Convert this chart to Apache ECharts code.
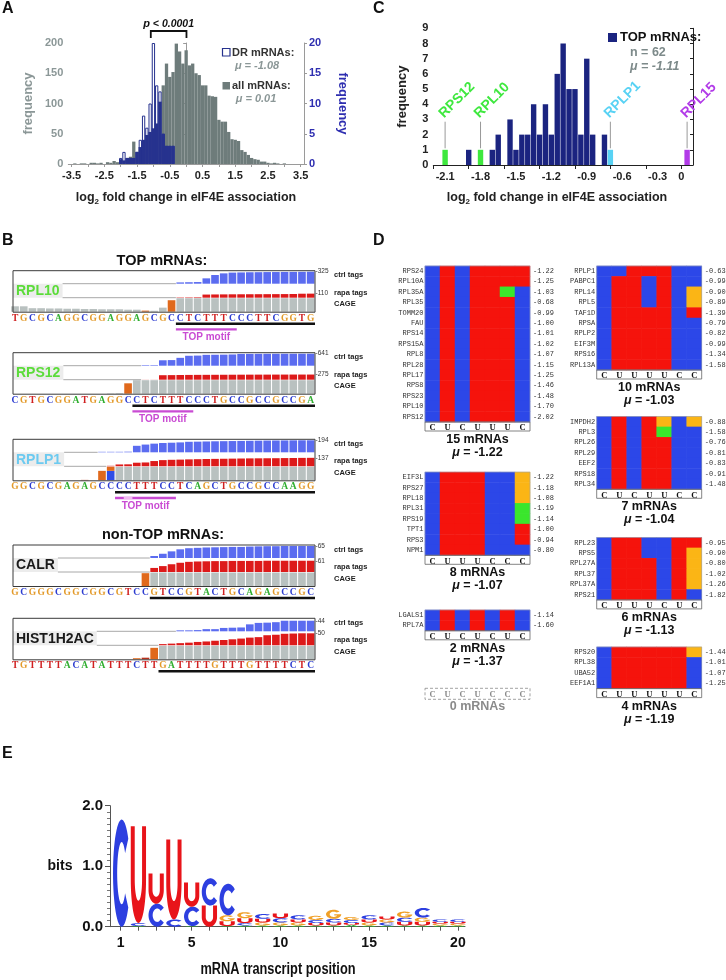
<!DOCTYPE html>
<html><head><meta charset="utf-8">
<script src="https://cdn.jsdelivr.net/npm/echarts@6.0.0/dist/echarts.min.js"></script>
<style>html,body{margin:0;padding:0;background:#fff;}#chart{width:726px;height:980px;}</style>
</head><body><div id="chart"></div>
<script>
/* ===================== DATA ===================== */
// ---- Panel A : histogram of log2 fold change (all mRNAs, DR mRNAs)
const aBins = [-3.4,-3.3,-3.2,-3.1,-3.0,-2.9,-2.8,-2.7,-2.6,-2.5,-2.4,-2.3,-2.2,-2.1,-2.0,-1.9,-1.8,-1.7,-1.6,-1.5,-1.4,-1.3,-1.2,-1.1,-1.0,-0.9,-0.8,-0.7,-0.6,-0.5,-0.4,-0.3,-0.2,-0.1,0.0,0.1,0.2,0.3,0.4,0.5,0.6,0.7,0.8,0.9,1.0,1.1,1.2,1.3,1.4,1.5,1.6,1.7,1.8,1.9,2.0,2.1,2.2,2.3,2.4,2.5,2.6,2.7,2.8,2.9,3.0];
const aAllCounts = [1,0,1,1,0,2,2,1,2,0,3,2,5,3,8,6,10,12,37,20,28,40,48,53,59,67,103,130,166,144,152,199,186,166,188,163,166,150,147,130,130,113,112,111,73,70,70,53,41,40,38,23,20,15,10,8,7,4,4,2,1,2,1,0,1];
const aDrBins = [-2.0,-1.9,-1.8,-1.7,-1.6,-1.5,-1.4,-1.3,-1.2,-1.1,-1.0,-0.9,-0.8,-0.7,-0.6,-0.5,-0.4];
const aDrCounts = [1,2,1,1,1,2,4,8,6,10,20,13,12,5,3,3,3];
const aTickVals = [-3.5,-3.0,-2.5,-2.0,-1.5,-1.0,-0.5,0,0.5,1.0,1.5,2.0,2.5,3.0,3.5];
const aLabelVals = [-3.5,-2.5,-1.5,-0.5,0.5,1.5,2.5,3.5];
const aMeanDR = -1.08;
const aMeanAll = 0.01;

// ---- Panel C : TOP mRNAs histogram
const cNavyBins = [-1.9,-1.7,-1.65,-1.55,-1.5,-1.45,-1.4,-1.35,-1.3,-1.25,-1.2,-1.15,-1.1,-1.05,-1.0,-0.95,-0.9,-0.85,-0.75];
const cNavyCounts = [1,1,2,3,1,2,2,4,2,4,2,6,8,5,5,2,7,2,2];
const cHlNames = ['RPS12','RPL10','RPLP1','RPL15'];
const cHlBins = [-2.1,-1.8,-0.7,-0.05];
const cHlCounts = [1,1,1,1];
const cTickMarks = [-2.2,-1.9,-1.6,-1.3,-1.0,-0.7,-0.4,-0.1];
const cLabelPos = [-2.1,-1.8,-1.5,-1.2,-0.9,-0.6,-0.3,-0.1];
const cLabelText = ['-2.1','-1.8','-1.5','-1.2','-0.9','-0.6','-0.3','0'];

// ---- Panel B : tag tracks
const bGenes = ['RPL10','RPS12','RPLP1','CALR','HIST1H2AC'];
const bSeqs = ['TGCGCAGGCGGAGGAGCGCCTCTTTCCCTTCGGTG','CGTGCGGATGAGGCCTCTTTCCCTGCCGCCGCCGA','GGCGCGAGAGCCCCTTTCCTCAGCTGCCGCCAAGG','GCGGGCGGCGGCGTCCGTCCGTACTGCAGAGCCGC','TGTTTTACATATTTCTTGATTTTGTTTGTTTTCTC'];
const bCtrl = [
 [0,0,0,0,0,0,0,0,0,0,0,0,0,0,0,0,0,0,0,35,40,45,145,235,280,300,305,310,312,315,316,318,320,322,325],
 [0,0,0,0,0,0,0,0,0,0,0,0,0,0,0,30,30,290,300,420,530,540,580,585,590,600,630,632,634,636,638,639,640,641,641],
 [0,0,0,0,0,0,0,0,0,0,8,8,8,10,105,125,140,150,155,160,170,172,175,178,180,182,184,186,188,190,191,192,193,194,194],
 [0,0,0,0,0,0,0,0,0,0,0,0,0,0,0,0,11,23,36,47,53,55,57,58,59,60,60,62,63,64,64,65,65,65,65],
 [0,0,0,0,0,0,0,0,0,0,0,0,0,0,0,0,0,0,0,4,4,5,9,9,14,15,16,29,35,36,38,44,44,44,44]
];
const bRapa = [
 [0,0,0,0,0,0,0,0,0,0,0,0,0,0,0,0,0,0,0,10,12,15,85,88,90,92,93,94,95,96,97,98,100,108,110],
 [0,0,0,0,0,0,0,0,0,0,0,0,0,0,0,5,5,240,245,250,255,258,260,262,264,266,268,270,271,272,273,274,275,275,275],
 [0,0,0,0,0,0,0,0,0,0,0,8,30,32,58,62,85,100,105,108,112,115,118,120,122,124,126,128,129,130,131,133,134,136,137],
 [0,0,0,0,0,0,0,0,0,0,0,0,0,0,0,0,22,32,42,50,55,57,58,59,59,60,60,60,60,61,61,61,61,61,61],
 [0,0,0,0,0,0,0,0,0,0,0,0,0,0,0,0,0,5,7,9,11,14,16,19,22,25,28,32,34,42,44,48,49,50,50]
];
const bCageGrey = [
 [40,40,26,26,24,24,22,22,20,20,18,18,18,15,15,0,7,30,0,100,100,100,100,100,100,100,100,100,100,100,100,100,100,100,100],
 [0,0,0,0,0,0,0,0,0,0,0,3,5,0,100,100,100,100,100,100,100,100,100,100,100,100,100,100,100,100,100,100,100,100,100],
 [0,0,0,0,0,0,0,0,0,0,0,0,100,100,100,100,100,100,100,100,100,100,100,100,100,100,100,100,100,100,100,100,100,100,100],
 [0,0,0,0,0,0,0,0,0,0,0,0,0,0,0,0,100,100,100,100,100,100,100,100,100,100,100,100,100,100,100,100,100,100,100],
 [0,0,0,0,0,0,0,0,0,0,0,0,0,0,0,0,0,100,100,100,100,100,100,100,100,100,100,100,100,100,100,100,100,100,100]
];
const bCageBlue = [
 [0,0,0,0,0,0,0,0,0,0,0,0,0,0,0,0,0,0,0,0,0,0,0,0,0,0,0,0,0,0,0,0,0,0,0],
 [0,0,0,0,0,0,0,0,0,0,0,0,0,0,0,0,0,0,0,0,0,0,0,0,0,0,0,0,0,0,0,0,0,0,0],
 [0,0,0,0,0,0,0,0,0,0,0,70,0,0,0,0,0,0,0,0,0,0,0,0,0,0,0,0,0,0,0,0,0,0,0],
 [0,0,0,0,0,0,0,0,0,0,0,0,0,0,0,0,0,0,0,0,0,0,0,0,0,0,0,0,0,0,0,0,0,0,0],
 [0,0,0,0,0,0,0,0,0,0,0,0,0,0,0,0,0,0,0,0,0,0,0,0,0,0,0,0,0,0,0,0,0,0,0]
];
const bCageOrange = [
 [0,0,0,0,0,0,0,0,0,0,0,0,0,0,0,8,0,0,85,0,0,0,0,0,0,0,0,0,0,0,0,0,0,0,0],
 [0,0,0,0,0,0,0,0,0,0,0,0,0,77,0,0,0,0,0,0,0,0,0,0,0,0,0,0,0,0,0,0,0,0,0],
 [0,0,0,0,0,0,0,0,0,0,70,30,0,0,0,0,0,0,0,0,0,0,0,0,0,0,0,0,0,0,0,0,0,0,0],
 [0,0,0,0,0,0,0,0,0,0,0,0,0,0,0,95,0,0,0,0,0,0,0,0,0,0,0,0,0,0,0,0,0,0,0],
 [0,0,0,0,0,0,0,0,0,0,0,0,0,0,8,0,85,0,0,0,0,0,0,0,0,0,0,0,0,0,0,0,0,0,0]
];
const bCageRed = [
 [0,0,0,0,0,0,0,0,0,0,0,0,0,0,0,0,0,0,0,0,0,0,0,0,0,0,0,0,0,0,0,0,0,0,0],
 [0,0,0,0,0,0,0,0,0,0,0,0,0,0,0,0,0,0,0,0,0,0,0,0,0,0,0,0,0,0,0,0,0,0,0],
 [0,0,0,0,0,0,0,0,3,0,0,0,0,0,0,0,0,0,0,0,0,0,0,0,0,0,0,0,0,0,0,0,0,0,0],
 [0,0,0,0,0,0,0,0,0,0,0,0,0,0,0,0,0,0,0,0,0,0,0,0,0,0,0,0,0,0,0,0,0,0,0],
 [0,0,0,0,0,0,0,0,0,0,0,0,0,0,0,12,0,0,0,0,0,0,0,0,0,0,0,0,0,0,0,0,0,0,0]
];
const bTxStart = [19,14,12,16,17];
const bMotif = [[19,25],[14,20],[12,18],null,null];
const bMotifWeak = [-1,-1,13,-1,-1];

// ---- Panel D : heatmaps
const d1Motif = 'CUCUUUC';
const d1Genes = ['RPS24','RPL10A','RPL35A','RPL35','TOMM20','FAU','RPS14','RPS15A','RPL8','RPL28','RPL17','RPS8','RPS23','RPL10','RPS12'];
const d1Vals = [-1.22,-1.25,-1.03,-0.68,-0.99,-1.00,-1.01,-1.02,-1.07,-1.15,-1.25,-1.46,-1.48,-1.70,-2.02];
const d1Seqs = ['CUCUUUU','CUCUUUU','CUCUUAC','CUCUUUC','CUCUUUC','CUCUUUC','CUCUUUC','CUCUUUC','CUCUUUC','CUCUUUC','CUCUUUC','CUCUUUC','CUCUUUC','CUCUUUC','CUCUUUC'];
const d1Mean = -1.22;
const d2Motif = 'CUUUUCC';
const d2Genes = ['RPLP1','PABPC1','RPL14','RPL5','TAF1D','RPSA','RPLP2','EIF3M','RPS16','RPL13A'];
const d2Vals = [-0.63,-0.99,-0.90,-0.89,-1.39,-0.79,-0.82,-0.99,-1.34,-1.58];
const d2Seqs = ['CCUUUCC','CUUCUCC','CUUCUCG','CUUCUCG','CUUUUCU','CUUUUCC','CUUUUCC','CUUUUCC','CUUUUCC','CUUUUCC'];
const d2Mean = -1.03;
const d3Motif = 'CUCUUCC';
const d3Genes = ['IMPDH2','RPL3','RPL26','RPL29','EEF2','RPS18','RPL34'];
const d3Vals = [-0.88,-1.58,-0.76,-0.81,-0.83,-0.91,-1.48];
const d3Seqs = ['CUCUGCG','CUCUACC','CUCUUCC','CUCUUCC','CUCUUCC','CUCUUCC','CUCUUCC'];
const d3Mean = -1.04;
const d4Motif = 'CUUUCCC';
const d4Genes = ['EIF3L','RPS27','RPL18','RPL31','RPS19','TPT1','RPS3','NPM1'];
const d4Vals = [-1.22,-1.18,-1.08,-1.19,-1.14,-1.00,-0.94,-0.80];
const d4Seqs = ['CUUUCCG','CUUUCCG','CUUUCCG','CUUUCCA','CUUUCCA','CUUUCCU','CUUUCCU','CUUUCCC'];
const d4Mean = -1.07;
const d5Motif = 'CUUUCUC';
const d5Genes = ['RPL23','RPS5','RPL27A','RPL37','RPL37A','RPS21'];
const d5Vals = [-0.95,-0.90,-0.80,-1.02,-1.26,-1.82];
const d5Seqs = ['CUUCCUU','CUUCCUG','CUUUCUG','CUUUCUG','CUUUCUG','CUUUCUC'];
const d5Mean = -1.13;
const d6Motif = 'CUCUCUC';
const d6Genes = ['LGALS1','RPL7A'];
const d6Vals = [-1.14,-1.60];
const d6Seqs = ['CUCUCUC','CUCUCUC'];
const d6Mean = -1.37;
const d7Motif = 'CUUUUUC';
const d7Genes = ['RPS20','RPL38','UBA52','EEF1A1'];
const d7Vals = [-1.44,-1.01,-1.07,-1.25];
const d7Seqs = ['CUUUUUG','CUUUUUC','CUUUUUC','CUUUUUC'];
const d7Mean = -1.19;
const d0Motif = 'CUCUCCC';

// ---- Panel E : sequence logo (bits per nucleotide at each position)
const ePositions = [1,2,3,4,5,6,7,8,9,10,11,12,13,14,15,16,17,18,19,20];
const eBitsA = [0.00,0.01,0.00,0.00,0.01,0.00,0.01,0.02,0.02,0.02,0.02,0.02,0.02,0.03,0.02,0.02,0.02,0.02,0.02,0.02];
const eBitsC = [1.77,0.05,0.38,0.12,0.32,0.45,0.52,0.04,0.08,0.07,0.07,0.05,0.06,0.05,0.07,0.05,0.07,0.16,0.04,0.04];
const eBitsG = [0.00,0.00,0.00,0.00,0.00,0.00,0.10,0.10,0.05,0.05,0.05,0.07,0.15,0.05,0.05,0.05,0.10,0.07,0.03,0.03];
const eBitsU = [0.00,1.60,0.50,1.32,0.40,0.35,0.08,0.08,0.06,0.08,0.05,0.04,0.05,0.03,0.05,0.05,0.06,0.06,0.03,0.03];
const eLabelVals = [1,5,10,15,20];

/* ===================== BUILD ===================== */
const chart = echarts.init(document.getElementById('chart'), null, {renderer:'canvas', width:726, height:980});
const grid=[], xAxis=[], yAxis=[], series=[], graphic=[];
const add=(arr,o)=>{arr.push(o);return arr.length-1;};
const LS='"Liberation Sans", Arial, Helvetica, sans-serif';
const SERIF='"Liberation Serif", "DejaVu Serif", serif';
const MONO='"Liberation Mono", "DejaVu Sans Mono", monospace';
const font=(size,weight,style,fam)=>(style?style+' ':'')+(weight||'normal')+' '+size+'px '+(fam||LS);
function text(x,y,str,o){
  o=o||{};
  const st={text:str, font:o.font||font(12,'bold'), fill:o.fill||'#111',
    align:o.align||'left', textAlign:o.align||'left',
    verticalAlign:o.va||'middle', textVerticalAlign:o.va||'middle'};
  if(o.rich) st.rich=o.rich;
  graphic.push({type:'text', x, y, rotation:o.rotation||0, scaleX:o.scaleX||1, scaleY:o.scaleY||1, z:100, silent:true, style:st});
}
function rect(x,y,w,h,style,z){ graphic.push({type:'rect', shape:{x,y,width:w,height:h}, style, z:z||60, silent:true}); }
const G0={containLabel:false, outerBoundsMode:'none'};
const noSplit={show:false};

// panel letters
text(2,9,'A',{font:font(16,'bold')});
text(2,241,'B',{font:font(16,'bold')});
text(373,9,'C',{font:font(16,'bold')});
text(373,241,'D',{font:font(16,'bold')});
text(2,754,'E',{font:font(16,'bold')});

/* ---------- Panel A ---------- */
const A_GREY='#6e7c7b', A_NAVY='#26328e', A_LGREY='#8b9797', A_BLUE='#2e2eb0';
const gA=add(grid,{...G0,left:68.3,top:43,width:235.7,height:121});
const xA=add(xAxis,{type:'value',gridIndex:gA,min:-3.6,max:3.6,splitLine:noSplit,
  axisLine:{show:true,onZero:false,lineStyle:{color:'#9a9a9a'}},
  axisTick:{show:true,customValues:aTickVals,length:3,lineStyle:{color:'#9a9a9a'}},
  axisLabel:{customValues:aLabelVals,formatter:v=>v.toFixed(1),fontFamily:LS,fontWeight:'bold',fontSize:11,color:'#222',margin:6}});
const yAL=add(yAxis,{type:'value',gridIndex:gA,min:0,max:200,interval:50,position:'left',splitLine:noSplit,
  axisLine:{show:true,lineStyle:{color:'#9a9a9a'}},axisTick:{show:true,length:3},
  axisLabel:{fontFamily:LS,fontWeight:'bold',fontSize:11,color:A_LGREY,margin:5},
  name:'frequency',nameLocation:'middle',nameGap:33,nameMoveOverlap:false,
  nameTextStyle:{fontFamily:LS,fontWeight:'bold',fontSize:13,color:A_LGREY}});
const yAR=add(yAxis,{type:'value',gridIndex:gA,min:0,max:20,interval:5,position:'right',splitLine:noSplit,
  axisLine:{show:true,lineStyle:{color:'#9a9a9a'}},axisTick:{show:true,length:3},
  axisLabel:{fontFamily:LS,fontWeight:'bold',fontSize:11,color:A_BLUE,margin:5},
  name:'frequency',nameLocation:'middle',nameGap:32,nameRotate:-90,nameMoveOverlap:false,
  nameTextStyle:{fontFamily:LS,fontWeight:'bold',fontSize:13,color:A_BLUE}});
series.push({type:'bar',xAxisIndex:xA,yAxisIndex:yAL,data:aBins.map((b,i)=>[b,aAllCounts[i]]),barWidth:3.3,barGap:'-100%',itemStyle:{color:A_GREY},z:2,silent:true});
series.push({type:'bar',xAxisIndex:xA,yAxisIndex:yAR,data:aDrBins.map((b,i)=>[b,aDrCounts[i]]),barWidth:3.3,barGap:'-100%',itemStyle:{color:'#fff',borderColor:A_NAVY,borderWidth:1},z:3,silent:true});
const aOverlap=aDrBins.map((b,i)=>{const j=aBins.findIndex(v=>Math.abs(v-b)<1e-6);return [b,Math.min(aAllCounts[j],aDrCounts[i]*10)];});
series.push({type:'bar',xAxisIndex:xA,yAxisIndex:yAL,data:aOverlap,barWidth:3.3,barGap:'-100%',itemStyle:{color:A_NAVY},z:4,silent:true});
series.push({type:'custom',xAxisIndex:xA,yAxisIndex:yAL,data:[[aMeanDR,aMeanAll]],clip:false,silent:true,z:10,
  renderItem:(p,api)=>{
    const x1=api.coord([api.value(0),0])[0], x2=api.coord([api.value(1),0])[0];
    return {type:'group',children:[
      {type:'polyline',shape:{points:[[x1,38],[x1,31],[x2,31],[x2,38]]},style:{stroke:'#111',lineWidth:1.8,fill:null}},
      {type:'text',x:(x1+x2)/2,y:24,style:{text:'{i|p}{b| < 0.0001}',align:'center',verticalAlign:'middle',
        rich:{i:{font:font(11,'bold','italic'),fill:'#111'},b:{font:font(10.5,'bold','italic'),fill:'#111'}}}}
    ]};
  }});
rect(222.5,48.5,7.5,7.5,{fill:'#fff',stroke:A_NAVY,lineWidth:1.2});
text(232,52.5,'DR mRNAs:',{font:font(11,'bold'),fill:'#333'});
text(257,65.5,'μ = -1.08',{font:font(11,'bold','italic'),fill:A_LGREY,align:'center'});
rect(222.5,82,7.5,7.5,{fill:A_GREY});
text(232,86,'all mRNAs:',{font:font(11,'bold'),fill:'#333'});
text(256,99,'μ = 0.01',{font:font(11,'bold','italic'),fill:A_LGREY,align:'center'});
text(186,198,'{a|log}{s|2}{a| fold change in eIF4E association}',{font:font(12.5,'bold'),align:'center',
  rich:{a:{font:font(12.5,'bold'),fill:'#222',lineHeight:15},s:{font:font(8,'bold'),fill:'#222',verticalAlign:'bottom',lineHeight:15,padding:[6,0,0,0]}}});

/* ---------- Panel C ---------- */
const C_NAVY='#1b2480';
const cHlColor={RPS12:'#3ee83e',RPL10:'#3ee83e',RPLP1:'#58d2f4',RPL15:'#b23be8'};
const gC=add(grid,{...G0,left:433.3,top:28.3,width:259.7,height:136.7});
const xC=add(xAxis,{type:'value',gridIndex:gC,min:-2.2,max:0,splitLine:noSplit,
  axisLine:{show:true,onZero:false,lineStyle:{color:'#222'}},
  axisTick:{show:true,customValues:cTickMarks,length:4,lineStyle:{color:'#222'}},
  axisLabel:{customValues:cLabelPos,formatter:v=>{const k=cLabelPos.findIndex(p=>Math.abs(p-v)<1e-6);return k<0?'':cLabelText[k];},
    fontFamily:LS,fontWeight:'bold',fontSize:11,color:'#222',margin:6}});
const yC=add(yAxis,{type:'value',gridIndex:gC,min:0,max:9,interval:1,splitLine:noSplit,
  axisLine:{show:true,lineStyle:{color:'#222'}},axisTick:{show:true,length:3},
  axisLabel:{fontFamily:LS,fontWeight:'bold',fontSize:11,color:'#222',margin:5},
  name:'frequency',nameLocation:'middle',nameGap:24,nameMoveOverlap:false,
  nameTextStyle:{fontFamily:LS,fontWeight:'bold',fontSize:13,color:'#222'}});
series.push({type:'bar',xAxisIndex:xC,yAxisIndex:yC,data:cNavyBins.map((b,i)=>[b,cNavyCounts[i]]),barWidth:5.4,barGap:'-100%',itemStyle:{color:C_NAVY},silent:true});
series.push({type:'bar',xAxisIndex:xC,yAxisIndex:yC,data:cHlBins.map((b,i)=>({value:[b,cHlCounts[i]],itemStyle:{color:cHlColor[cHlNames[i]]}})),barWidth:5.4,barGap:'-100%',silent:true});
series.push({type:'custom',xAxisIndex:xC,yAxisIndex:yC,data:cHlBins.map((b,i)=>[b,cHlCounts[i],i]),clip:false,silent:true,z:10,
  renderItem:(p,api)=>{
    const v=api.value(0), c=api.value(1), k=api.value(2);
    const x=api.coord([v,0])[0], yTop=api.coord([v,2.85])[1], yBot=api.coord([v,c+0.1])[1];
    const nm=cHlNames[k];
    return {type:'group',children:[
      {type:'line',shape:{x1:x,y1:yTop,x2:x,y2:yBot},style:{stroke:'#999',lineWidth:1}},
      {type:'text',x:x+1,y:yTop-1,rotation:Math.PI/4,style:{text:nm,font:font(14,'bold'),fill:cHlColor[nm],align:'left',verticalAlign:'bottom'}}
    ]};
  }});
rect(608,33,9,9,{fill:C_NAVY});
text(620,37.5,'TOP mRNAs:',{font:font(13,'bold'),fill:'#111'});
text(630,52.5,'n = 62',{font:font(12.5,'bold'),fill:'#7d8a8a'});
text(630,67,'μ = -1.11',{font:font(12.5,'bold','italic'),fill:'#7d8a8a'});
text(557,198,'{a|log}{s|2}{a| fold change in eIF4E association}',{font:font(12.5,'bold'),align:'center',
  rich:{a:{font:font(12.5,'bold'),fill:'#222',lineHeight:15},s:{font:font(8,'bold'),fill:'#222',verticalAlign:'bottom',lineHeight:15,padding:[6,0,0,0]}}});

/* ---------- Panel B ---------- */
const bTop=[270.7,352.7,439.3,545,618.3];
const bCol={ctrl:'#5b6cf0',rapa:'#dd1a1a',grey:'#b9c1c0',orange:'#e0691c',blue:'#2f4de6',red:'#b8301c'};
const bLabelCol={RPL10:'#5cdc3a',RPS12:'#5cdc3a',RPLP1:'#6ccaf0',CALR:'#1a1a1a',HIST1H2AC:'#1a1a1a'};
const lc={A:'#2fae2f',C:'#2c3cd0',G:'#e39a2a',T:'#d02020'};
const measure=(()=>{const c=document.createElement('canvas').getContext('2d');return (t,f)=>{c.font=f;return c.measureText(t).width;};})();
text(162,261,'TOP mRNAs:',{font:font(14.5,'bold'),align:'center'});
text(163,535,'non-TOP mRNAs:',{font:font(14.5,'bold'),align:'center'});
const letterRich={};
Object.keys(lc).forEach(k=>{letterRich[k]={color:lc[k],fontFamily:SERIF,fontWeight:'bold',fontSize:9.5};});
bGenes.forEach((gname,g)=>{
  const T=bTop[g], seq=bSeqs[g], n=seq.length;
  const cats=seq.split('').map((_,i)=>String(i));
  const scale=Math.max(...bCtrl[g],...bRapa[g]);
  const base={...G0,left:10.7,width:304.3};
  const gi1=add(grid,{...base,top:T+1,height:12});
  const gi2=add(grid,{...base,top:T+15,height:12});
  const gi3=add(grid,{...base,top:T+27.5,height:13.5});
  const hidX=gi=>add(xAxis,{type:'category',gridIndex:gi,data:cats,axisLine:{show:false},axisTick:{show:false},axisLabel:{show:false},splitLine:noSplit});
  const hidY=(gi,max)=>add(yAxis,{type:'value',gridIndex:gi,min:0,max:max,show:false,splitLine:noSplit});
  const x1=hidX(gi1), y1=hidY(gi1,scale);
  const x2=hidX(gi2), y2=hidY(gi2,scale);
  const x3=add(xAxis,{type:'category',gridIndex:gi3,data:cats,axisLine:{show:false},axisTick:{show:false},splitLine:noSplit,
    axisLabel:{interval:0,margin:1.5,formatter:(v,i)=>'{'+seq[i]+'|'+seq[i]+'}',rich:letterRich}});
  const y3=hidY(gi3,100);
  const bb={type:'bar',barCategoryGap:'12%',silent:true};
  series.push({...bb,xAxisIndex:x1,yAxisIndex:y1,data:bCtrl[g],itemStyle:{color:bCol.ctrl}});
  series.push({...bb,xAxisIndex:x2,yAxisIndex:y2,data:bRapa[g],itemStyle:{color:bCol.rapa}});
  [['grey',bCageGrey],['blue',bCageBlue],['orange',bCageOrange],['red',bCageRed]].forEach(([k,arr])=>
    series.push({...bb,xAxisIndex:x3,yAxisIndex:y3,stack:'cage'+g,data:arr[g],itemStyle:{color:bCol[k]}}));
  const lf=font(14,'bold');
  const labelEnd=16+measure(gname,lf)+3;
  const firstCtrl=bCtrl[g].findIndex(v=>v>0), firstRapa=bRapa[g].findIndex(v=>v>0);
  series.push({type:'custom',xAxisIndex:x3,yAxisIndex:y3,data:[[0,0]],clip:false,silent:true,z:5,
    renderItem:(p,api)=>{
      const cw=api.size([1,0])[0];
      const xl=i=>api.coord([i,0])[0]-cw/2;
      const yB=api.coord([0,0])[1];
      const kids=[];
      const s=bTxStart[g];
      kids.push({type:'rect',shape:{x:xl(s),y:yB+10.7,width:xl(n-1)+cw-xl(s),height:2.6},style:{fill:'#111'}});
      const m=bMotif[g];
      if(m){
        kids.push({type:'rect',shape:{x:xl(m[0]),y:yB+16.5,width:xl(m[1])+cw-xl(m[0]),height:2.4},style:{fill:'#c94bd3'}});
        if(bMotifWeak[g]>=0) kids.push({type:'rect',shape:{x:xl(bMotifWeak[g]),y:yB+16.5,width:cw,height:2.4},style:{fill:'#f2b9f2'}});
        kids.push({type:'text',x:(xl(m[0])+xl(m[1])+cw)/2,y:yB+25.8,style:{text:'TOP motif',font:font(10,'bold'),fill:'#c94bd3',align:'center',verticalAlign:'middle'}});
      }
      kids.push({type:'rect',shape:{x:13,y:yB-28,width:labelEnd-13,height:14},style:{fill:'#ececec'}});
      kids.push({type:'line',shape:{x1:labelEnd,y1:yB-28,x2:xl(firstCtrl),y2:yB-28},style:{stroke:'#a8a8a8',lineWidth:1}});
      kids.push({type:'line',shape:{x1:labelEnd,y1:yB-14,x2:xl(firstRapa),y2:yB-14},style:{stroke:'#a8a8a8',lineWidth:1}});
      kids.push({type:'text',x:16,y:yB-20.6,style:{text:gname,font:lf,fill:bLabelCol[gname],align:'left',verticalAlign:'middle'}});
      return {type:'group',children:kids};
    }});
  rect(13,T,302,41.5,{fill:'none',stroke:'#3a3a3a',lineWidth:1});
  const cMax=Math.max(...bCtrl[g]), rMax=Math.max(...bRapa[g]);
  text(315.5,T+13-cMax/scale*12,'-'+cMax,{font:font(6.5),fill:'#333'});
  text(315.5,T+27-rMax/scale*12,'-'+rMax,{font:font(6.5),fill:'#333'});
  text(334,T+4.5,'ctrl tags',{font:font(7.5,'bold'),fill:'#222'});
  text(334,T+22,'rapa tags',{font:font(7.5,'bold'),fill:'#222'});
  text(334,T+33.5,'CAGE',{font:font(7.5,'bold'),fill:'#222'});
});

/* ---------- Panel D ---------- */
const dColor={A:'#3ae62c',C:'#2c47e8',G:'#fbb515',U:'#f5130c'};
const dLayout=[{left:425,top:266},{left:596.7,top:266},{left:596.7,top:416.5},{left:425,top:472.1},{left:596.7,top:537.5},{left:425,top:610},{left:596.7,top:647}];
const dSets=[
  {motif:d1Motif,genes:d1Genes,vals:d1Vals,seqs:d1Seqs,mean:d1Mean},
  {motif:d2Motif,genes:d2Genes,vals:d2Vals,seqs:d2Seqs,mean:d2Mean},
  {motif:d3Motif,genes:d3Genes,vals:d3Vals,seqs:d3Seqs,mean:d3Mean},
  {motif:d4Motif,genes:d4Genes,vals:d4Vals,seqs:d4Seqs,mean:d4Mean},
  {motif:d5Motif,genes:d5Genes,vals:d5Vals,seqs:d5Seqs,mean:d5Mean},
  {motif:d6Motif,genes:d6Genes,vals:d6Vals,seqs:d6Seqs,mean:d6Mean},
  {motif:d7Motif,genes:d7Genes,vals:d7Vals,seqs:d7Seqs,mean:d7Mean}
];
const heatIdx=[];
const colCats=['0','1','2','3','4','5','6'];
const muRich={i:{font:font(12.5,'bold','italic'),fill:'#111'},b:{font:font(12.5,'bold'),fill:'#111'}};
dSets.forEach((s,k)=>{
  const L=dLayout[k], rows=s.genes.length, H=rows*10.4;
  const gi=add(grid,{...G0,left:L.left,top:L.top,width:105,height:H});
  const xi=add(xAxis,{type:'category',gridIndex:gi,data:colCats,axisLine:{show:false},axisTick:{show:false},splitLine:noSplit,
    axisLabel:{interval:0,margin:1.5,formatter:(v,i)=>s.motif[i],fontFamily:SERIF,fontWeight:'bold',fontSize:8.5,color:'#111'}});
  const yi=add(yAxis,{type:'category',gridIndex:gi,data:s.genes,inverse:true,axisLine:{show:false},axisTick:{show:false},splitLine:noSplit,
    axisLabel:{interval:0,margin:1.5,fontFamily:MONO,fontSize:7,color:'#333'}});
  add(yAxis,{type:'category',gridIndex:gi,position:'right',data:s.vals.map(v=>v.toFixed(2)),inverse:true,axisLine:{show:false},axisTick:{show:false},splitLine:noSplit,
    axisLabel:{interval:0,margin:3,fontFamily:MONO,fontSize:7,color:'#333'}});
  const data=[];
  s.seqs.forEach((q,r)=>q.split('').forEach((ch,c)=>data.push([c,r,'ACGU'.indexOf(ch)])));
  heatIdx.push(series.length);
  series.push({type:'heatmap',xAxisIndex:xi,yAxisIndex:yi,data,silent:true,itemStyle:{borderWidth:0},emphasis:{disabled:true}});
  rect(L.left,L.top,105,H,{fill:'none',stroke:'#9aa3b0',lineWidth:0.6});
  rect(L.left,L.top+H,105,9,{fill:'none',stroke:'#666',lineWidth:0.8});
  const yt=L.top+H+9+8.5;
  text(L.left+52.5,yt,rows+' mRNAs',{font:font(12.5,'bold'),align:'center'});
  text(L.left+52.5,yt+13,'{i|μ}{b| = '+s.mean.toFixed(2)+'}',{font:font(12.5,'bold'),align:'center',rich:muRich});
});
// empty group (0 mRNAs)
const g0=add(grid,{...G0,left:425,top:688.3,width:105,height:11});
add(xAxis,{type:'category',gridIndex:g0,position:'top',data:colCats,axisLine:{show:false},axisTick:{show:false},splitLine:noSplit,
  axisLabel:{inside:true,interval:0,margin:1.5,formatter:(v,i)=>d0Motif[i],fontFamily:SERIF,fontWeight:'bold',fontSize:8.5,color:'#8a8a8a'}});
add(yAxis,{type:'value',gridIndex:g0,show:false,splitLine:noSplit});
graphic.push({type:'rect',shape:{x:425,y:688.3,width:105,height:11},style:{fill:'none',stroke:'#8a8a8a',lineWidth:0.8,lineDash:[3,2]},z:60,silent:true});
text(477.5,707,'0 mRNAs',{font:font(12.5,'bold'),fill:'#8a8a8a',align:'center'});

/* ---------- Panel E ---------- */
function ell(cx,cy,rx,ry,a0,a1,n){const p=[];for(let k=0;k<=n;k++){const a=(a0+(a1-a0)*k/n)*Math.PI/180;p.push([cx+rx*Math.cos(a),cy+ry*Math.sin(a)]);}return p;}
function toPath(polys){return polys.map(pts=>'M'+pts.map(q=>q[0].toFixed(2)+' '+q[1].toFixed(2)).join(' L')+' Z').join(' ');}
const GLYPH={
  C:toPath([[...ell(50,50,50,50,-40,-320,48),...ell(50,50,26,29,-320,-40,40)]]),
  U:toPath([[[0,0],...ell(50,55,50,45,180,0,30),[100,0],[74,0],...ell(50,55,24,22,0,180,24),[26,0]]]),
  G:toPath([[...ell(50,50,50,50,-40,-360,50),[54,50],[54,64],...ell(50,50,26,29,30,320,40)]]),
  A:toPath([[[0,100],[36,0],[64,0],[100,100],[74,100],[66,76],[34,76],[26,100]],[[50,22],[39,58],[61,58]]])
};
const eColor={A:'#2fb52f',C:'#2d3fe0',G:'#f0a028',U:'#e8141a'};
const gE=add(grid,{...G0,left:110,top:805.7,width:355,height:121});
const xE=add(xAxis,{type:'value',gridIndex:gE,min:0.4,max:20.4,splitLine:noSplit,
  axisLine:{show:true,onZero:false,lineStyle:{color:'#555'}},
  axisTick:{show:true,customValues:ePositions,length:4,lineStyle:{color:'#555'}},
  axisLabel:{customValues:eLabelVals,fontFamily:LS,fontWeight:'bold',fontSize:14,color:'#111',margin:9}});
const yE=add(yAxis,{type:'value',gridIndex:gE,min:0,max:2,interval:1,splitLine:noSplit,
  axisLine:{show:true,lineStyle:{color:'#555'}},axisTick:{show:true,length:5,lineStyle:{color:'#555'}},
  minorTick:{show:true,splitNumber:10,length:3,lineStyle:{color:'#777'}},minorSplitLine:{show:false},
  axisLabel:{formatter:v=>v.toFixed(1),fontFamily:LS,fontWeight:'bold',fontSize:15,color:'#111',margin:7}});
series.push({type:'custom',xAxisIndex:xE,yAxisIndex:yE,clip:false,silent:true,
  data:ePositions.map((p,i)=>[p,eBitsA[i],eBitsC[i],eBitsG[i],eBitsU[i]]),
  renderItem:(p,api)=>{
    const pos=api.value(0);
    const vals=[['A',api.value(1)],['C',api.value(2)],['G',api.value(3)],['U',api.value(4)]].filter(d=>d[1]>0).sort((a,b)=>a[1]-b[1]);
    const w=api.size([1,0])[0]*0.86, cx=api.coord([pos,0])[0];
    let acc=0; const kids=[];
    vals.forEach(([L,v])=>{
      const yb=api.coord([pos,acc])[1], yt=api.coord([pos,acc+v])[1]; acc+=v;
      kids.push({type:'path',shape:{pathData:GLYPH[L],x:cx-w/2,y:yt,width:w,height:Math.max(0.3,yb-yt),layout:'cover'},style:{fill:eColor[L]}});
    });
    return {type:'group',children:kids};
  }});
text(60,866,'bits',{font:font(14,'bold'),align:'center'});
text(278,970,'mRNA transcript position',{font:font(16,'bold'),align:'center',scaleX:0.8});

/* ---------- render ---------- */
chart.setOption({
  animation:false,
  grid, xAxis, yAxis, series,
  visualMap:[{type:'piecewise',show:false,seriesIndex:heatIdx,dimension:2,
    pieces:[{value:0,color:dColor.A},{value:1,color:dColor.C},{value:2,color:dColor.G},{value:3,color:dColor.U}]}],
  graphic:{elements:graphic}
});
</script>
</body></html>
